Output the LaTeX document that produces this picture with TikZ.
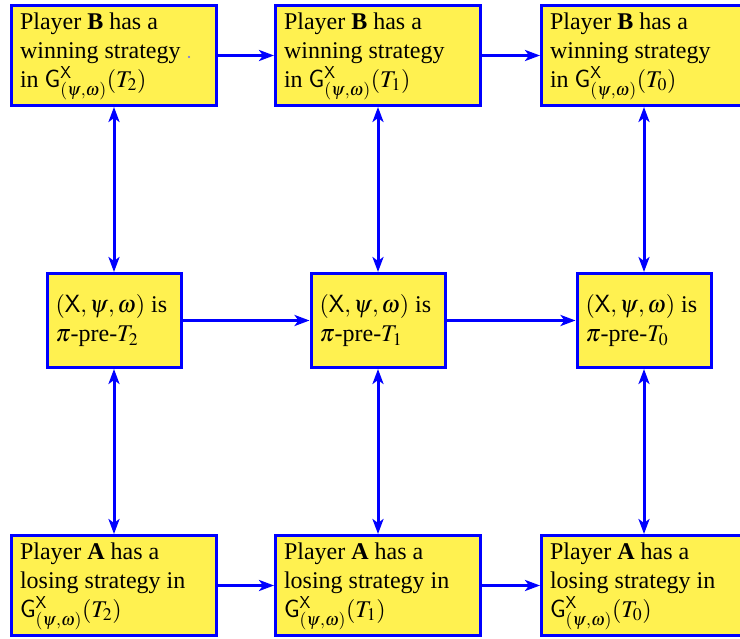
\documentclass[tikz,border=0pt]{standalone}
\usepackage{mathptmx}
\usepackage{fontspec}
\setmainfont{Liberation Serif}
\usetikzlibrary{arrows.meta}

\definecolor{boxfill}{RGB}{255,241,80}
\definecolor{edgeblue}{RGB}{0,0,255}

% the game G^X_(psi,omega)(T_i) and the triple (X,psi,omega)
\newcommand{\gameG}[1]{\ensuremath{\mathsf{G}^{\mathsf{X}}_{(\psi,\omega)}(T_{#1})}}
\newcommand{\tripleX}{\ensuremath{(\mathsf{X},\psi,\omega)}}

\tikzset{
  claim/.style={rectangle, draw=edgeblue, fill=boxfill, line width=3pt,
    inner xsep=8.5pt, inner ysep=0pt, text width=188pt,
    text height=24pt, text depth=76pt, align=flush left,
    font=\fontsize{24}{28.8}\selectfont},
  property/.style={claim, text width=117pt, text height=39.5pt, text depth=54.5pt},
  tip/.tip={Stealth[length=15pt,width=11pt,inset=4pt]},
  link/.style={draw=edgeblue, line width=3pt, -tip},
  bilink/.style={draw=edgeblue, line width=3pt, tip-tip},
}

\begin{document}
\begin{tikzpicture}[x=1pt,y=1pt]
  \clip (0,0) rectangle (740,-639);
  \useasboundingbox (0,0) rectangle (740,-639);

  % winning row
  \node[claim] (w2) at (114,-55.5) {Player \textbf{B} has a\\winning strategy\\in \gameG{2}};
  \node[claim] (w1) at (378,-55.5) {Player \textbf{B} has a\\winning strategy\\in \gameG{1}};
  \node[claim] (w0) at (644,-55.5) {Player \textbf{B} has a\\winning strategy\\in \gameG{0}};

  % pre-T row
  \node[property] (p2) at (114,-320.5) {\tripleX{} is\\$\pi$-pre-$T_2$};
  \node[property] (p1) at (378,-320.5) {\tripleX{} is\\$\pi$-pre-$T_1$};
  \node[property] (p0) at (644,-320.5) {\tripleX{} is\\$\pi$-pre-$T_0$};

  % losing row
  \node[claim] (l2) at (114,-585.5) {Player \textbf{A} has a\\losing strategy in\\\gameG{2}};
  \node[claim] (l1) at (378,-585.5) {Player \textbf{A} has a\\losing strategy in\\\gameG{1}};
  \node[claim] (l0) at (644,-585.5) {Player \textbf{A} has a\\losing strategy in\\\gameG{0}};

  % small mark after "strategy"
  \fill[edgeblue!60] (189,-57) circle (1.1pt);

  % horizontal implications
  \draw[link] (w2) -- (w1);
  \draw[link] (w1) -- (w0);
  \draw[link] (p2) -- (p1);
  \draw[link] (p1) -- (p0);
  \draw[link] (l2) -- (l1);
  \draw[link] (l1) -- (l0);

  % vertical equivalences
  \foreach \i in {2,1,0} {
    \draw[bilink] (w\i) -- (p\i);
    \draw[bilink] (p\i) -- (l\i);
  }
\end{tikzpicture}
\end{document}
